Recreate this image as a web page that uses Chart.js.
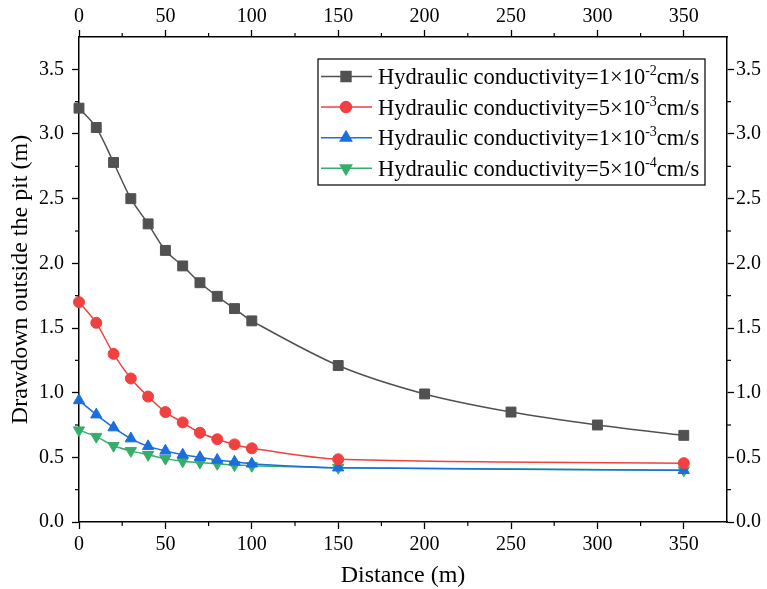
<!DOCTYPE html>
<html>
<head>
<meta charset="utf-8">
<script src="https://cdn.jsdelivr.net/npm/chart.js@4.4.0/dist/chart.umd.min.js"></script>
<style>
      html, body { margin: 0; padding: 0; background: #fff; }
</style>
</head>
<body>
<canvas id="myChart" width="767" height="589"></canvas>
<script>
//Datos de la grafica
var distancia = [0, 10, 20, 30, 40, 50, 60, 70, 80, 90, 100, 150, 200, 250, 300, 350];
var distanciaCorta = [0, 10, 20, 30, 40, 50, 60, 70, 80, 90, 100, 150, 350];
var k1e2 = [3.20, 3.05, 2.78, 2.50, 2.305, 2.10, 1.98, 1.85, 1.745, 1.65, 1.555, 1.21, 0.99, 0.85, 0.75, 0.67];
var k5e3 = [1.70, 1.54, 1.30, 1.11, 0.97, 0.85, 0.77, 0.69, 0.64, 0.60, 0.57, 0.485, 0.455];
var k1e3 = [0.94, 0.83, 0.73, 0.645, 0.585, 0.55, 0.52, 0.50, 0.48, 0.465, 0.45, 0.42, 0.40];
var k5e4 = [0.71, 0.66, 0.59, 0.55, 0.52, 0.49, 0.47, 0.46, 0.45, 0.44, 0.435, 0.42, 0.40];

var xTicks = [0, 50, 100, 150, 200, 250, 300, 350];
var yTicks = [0.0, 0.5, 1.0, 1.5, 2.0, 2.5, 3.0, 3.5];

var etiquetas = ['Hydraulic conductivity=1×10', 'Hydraulic conductivity=5×10', 'Hydraulic conductivity=1×10', 'Hydraulic conductivity=5×10'];
var exponentes = ['-2', '-3', '-3', '-4'];
var unidad = 'cm/s';

var colores = ['#515151', '#F14040', '#1A6FDF', '#37AD6B'];
var fuente = 'Liberation Serif, Times New Roman, serif';

//Juntamos x e y
function puntos(xs, ys) {
      return ys.map(function (v, i) { return { x: xs[i], y: v }; });
}

function serie(idx, xs, ys, estilo, radio, rot) {
      return {
            label: etiquetas[idx] + exponentes[idx] + unidad,
            data: puntos(xs, ys),
            borderColor: colores[idx],
            backgroundColor: colores[idx],
            pointBackgroundColor: colores[idx],
            pointBorderColor: colores[idx],
            borderWidth: 1.5,
            pointStyle: estilo,
            pointRadius: radio,
            pointRotation: rot,
            pointBorderWidth: 1,
            tension: 0.3,
            clip: false
      };
}

var datasets = [
      serie(0, distancia, k1e2, 'rect', 7, 0),
      serie(1, distanciaCorta, k5e3, 'circle', 5.5, 0),
      serie(2, distanciaCorta, k1e3, 'triangle', 6.5, 0),
      serie(3, distanciaCorta, k5e4, 'triangle', 6.5, 180)
];

//Solo ticks mayores
function soloMayores(lista) {
      return function (scale) {
            scale.ticks = lista.map(function (v) { return { value: v }; });
      };
}

function eje(pos, lista, max, padding, tamano, mostrarTitulo, titulo, fmt) {
      var horiz = (pos === 'top' || pos === 'bottom');
      return {
            type: 'linear',
            position: pos,
            min: 0,
            max: max,
            afterBuildTicks: soloMayores(lista),
            afterFit: function (s) {
                  if (horiz) { s.height = tamano; } else { s.width = tamano; }
            },
            ticks: {
                  color: '#000',
                  padding: padding,
                  font: { family: fuente, size: 20 },
                  callback: fmt
            },
            grid: {
                  drawOnChartArea: false,
                  tickLength: 7,
                  tickColor: '#000',
                  tickWidth: 1.3
            },
            border: { color: '#000', width: 1.5 },
            title: {
                  display: mostrarTitulo,
                  text: titulo,
                  color: '#000',
                  font: { family: fuente, size: 24 },
                  padding: { top: 6, bottom: -1 }
            }
      };
}

var fmtX = function (v) { return String(v); };
var fmtY = function (v) { return Number(v).toFixed(1); };

//Ticks menores
var menores = {
      id: 'menores',
      afterDraw: function (chart) {
            var c = chart.ctx;
            c.save();
            c.strokeStyle = '#000';
            c.lineWidth = 1.2;
            var defs = [['x', 25, 'bottom'], ['x2', 25, 'top'], ['y', 0.25, 'left'], ['y2', 0.25, 'right']];
            defs.forEach(function (d) {
                  var s = chart.scales[d[0]];
                  for (var v = d[1]; v < s.max; v += d[1] * 2) {
                        var p = s.getPixelForValue(v);
                        c.beginPath();
                        if (d[2] === 'bottom') { c.moveTo(p, s.top); c.lineTo(p, s.top + 4); }
                        if (d[2] === 'top') { c.moveTo(p, s.bottom); c.lineTo(p, s.bottom - 4); }
                        if (d[2] === 'left') { c.moveTo(s.right, p); c.lineTo(s.right - 4, p); }
                        if (d[2] === 'right') { c.moveTo(s.left, p); c.lineTo(s.left + 4, p); }
                        c.stroke();
                  }
            });
            c.restore();
      }
};

//Leyenda dentro del area
var leyenda = {
      id: 'leyenda',
      afterDraw: function (chart) {
            var c = chart.ctx;
            var x0 = 318, y0 = 59, x1 = 705, y1 = 185;
            c.save();
            c.fillStyle = '#fff';
            c.fillRect(x0, y0, x1 - x0, y1 - y0);
            c.strokeStyle = '#000';
            c.lineWidth = 1.2;
            c.strokeRect(x0, y0, x1 - x0, y1 - y0);
            chart.data.datasets.forEach(function (ds, i) {
                  var cy = 76.5 + i * 30.6;
                  c.strokeStyle = ds.borderColor;
                  c.lineWidth = 1.5;
                  c.beginPath();
                  c.moveTo(321, cy);
                  c.lineTo(372, cy);
                  c.stroke();
                  c.fillStyle = ds.borderColor;
                  Chart.helpers.drawPoint(c, {
                        pointStyle: ds.pointStyle,
                        radius: ds.pointRadius,
                        rotation: ds.pointRotation,
                        borderWidth: 1
                  }, 346, cy);
                  c.fillStyle = '#000';
                  c.textBaseline = 'alphabetic';
                  c.textAlign = 'left';
                  c.font = '22.5px ' + fuente;
                  var tx = 378;
                  var base = cy + 7.5;
                  c.fillText(etiquetas[i], tx, base);
                  tx += c.measureText(etiquetas[i]).width;
                  c.font = '14px ' + fuente;
                  c.fillText(exponentes[i], tx, base - 9);
                  tx += c.measureText(exponentes[i]).width;
                  c.font = '22.5px ' + fuente;
                  c.fillText(unidad, tx, base);
            });
            c.restore();
      }
};

const ctx = document.getElementById('myChart').getContext('2d');
let myChart = new Chart(ctx, {
      type: 'line',
      data: { datasets: datasets },
      options: {
            responsive: false,
            animation: false,
            devicePixelRatio: 1,
            layout: { padding: 0 },
            plugins: {
                  legend: { display: false },
                  tooltip: { enabled: false }
            },
            scales: {
                  x: eje('bottom', xTicks, 375, 4, 67, true, 'Distance (m)', fmtX),
                  x2: eje('top', xTicks, 375, 1, 37, false, '', fmtX),
                  y: eje('left', yTicks, 3.75, 8, 79, true, 'Drawdown outside the pit (m)', fmtY),
                  y2: eje('right', yTicks, 3.75, 2, 40, false, '', fmtY)
            }
      },
      plugins: [menores, leyenda]
});
</script>
</body>
</html>
